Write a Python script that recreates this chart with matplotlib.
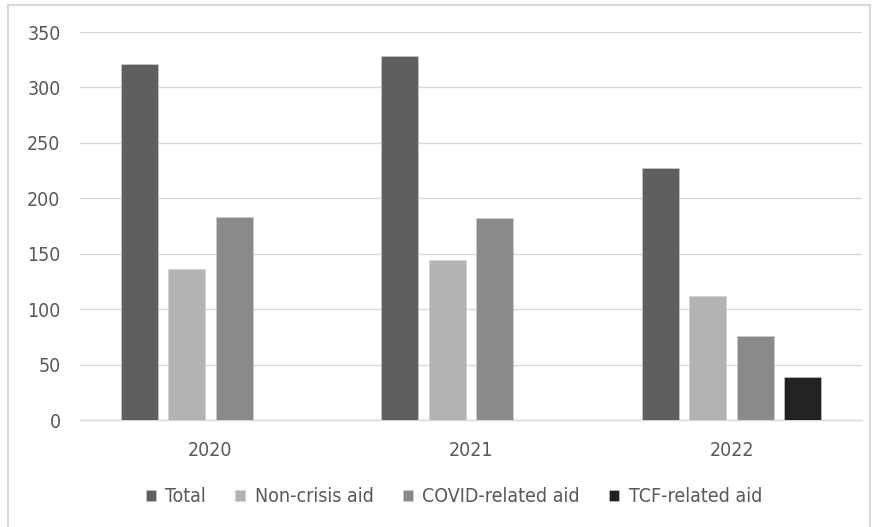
import numpy as np
import matplotlib.pyplot as plt
from matplotlib.patches import Rectangle

years = ["2020", "2021", "2022"]
series = ["Total", "Non-crisis aid", "COVID-related aid", "TCF-related aid"]
total = [321, 328, 227]
non_crisis = [136, 144, 112]
covid = [183, 182, 76]
tcf = [np.nan, np.nan, 39]
colors = ["#5f5f5f", "#b3b3b3", "#8a8a8a", "#222222"]

plt.rcParams['font.family'] = ['DejaVu Sans']
plt.rcParams['font.stretch'] = 'condensed'
text_color = "#595959"
grid_color = "#d9d9d9"

fig = plt.figure(figsize=(8.76, 5.27), dpi=100)
# chart area frame
fig.patches.append(Rectangle((8 / 876, -0.05), 862 / 876, 1.05 - 5 / 527,
                             transform=fig.transFigure, fill=False,
                             edgecolor=grid_color, linewidth=1.5))

ax = fig.add_axes([80 / 876, 1 - 420 / 527, 782 / 876, 388 / 527])

x = np.arange(len(years))
width = 0.142
step = 0.182
for i, (name, vals) in enumerate(zip(series, [total, non_crisis, covid, tcf])):
    ax.bar(x + (i - 1.5) * step, vals, width, color=colors[i], label=name,
           edgecolor="#cfcfcf", linewidth=0.4, zorder=3)

ax.set_xlim(-0.5, 2.5)
ax.set_ylim(0, 350)
ax.set_yticks(range(0, 351, 50))
ax.set_xticks(x)
ax.set_xticklabels(years)
ax.grid(axis='y', color=grid_color, linewidth=1, zorder=0)
for side in ["top", "right", "left"]:
    ax.spines[side].set_visible(False)
ax.spines["bottom"].set_color(grid_color)
ax.spines["bottom"].set_linewidth(1)
ax.tick_params(axis='both', length=0, labelsize=14, colors=text_color)
ax.tick_params(axis='y', pad=14)
ax.tick_params(axis='x', pad=15)

leg = fig.legend(loc='center', bbox_to_anchor=(454 / 876, 1 - 497 / 527), ncol=4,
                 frameon=False, fontsize=14, handlelength=0.5, handleheight=0.5,
                 handletextpad=0.5, columnspacing=1.5)
for t in leg.get_texts():
    t.set_color(text_color)

fig.savefig("out.png", dpi=100)
